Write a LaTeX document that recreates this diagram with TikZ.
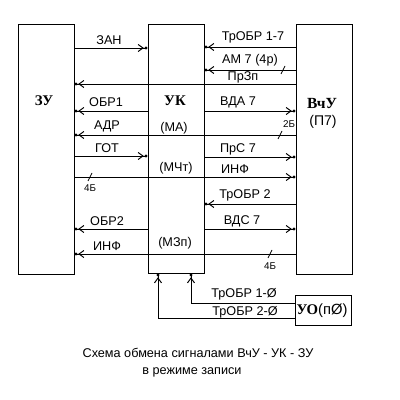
\documentclass[tikz,border=0pt]{standalone}
\usepackage{fontspec}
\setmainfont{Liberation Sans}
\newfontfamily\blokfont{Liberation Serif}
\usetikzlibrary{arrows.meta}

\tikzset{
  blok/.style={draw, line width=0.7pt, minimum width=1.4cm, inner sep=0pt},
  sig/.style={line width=0.7pt, -{Straight Barb[length=3.5pt,width=5pt,sep=0.6pt]Circle[length=2pt]}},
  lbl/.style={font=\fontsize{9}{10}\selectfont, inner sep=0pt},
  imja/.style={font=\blokfont\bfseries\fontsize{10.5}{12}\selectfont, inner sep=0pt},
  razr/.style={font=\fontsize{7}{8}\selectfont, inner sep=0pt}
}

\begin{document}
\begin{tikzpicture}[x=0.025cm,y=-0.025cm]
\useasboundingbox (0,0) rectangle (400,400);

\node[blok, minimum height=6.225cm] (zu) at (46,149.5) {};
\node[blok, minimum height=6.2cm] (uk) at (176,149) {};
\node[blok, minimum height=6.225cm] (vu) at (324,149.5) {};
\node[blok, minimum height=0.75cm] (uo) at (323,310) {};

\node[imja] (zut) at (44,101) {ЗУ};
\node[imja] (ukt) at (175,101) {УК};
\node[imja, font=\blokfont\bfseries\fontsize{11}{12}\selectfont] (vut) at (322,104) {ВчУ};
\node[lbl, font=\fontsize{10}{11}\selectfont] (p7) at (323,122) {(П7)};
\node[imja] (uot) at (322,311) {УО\textmd{\fontspec{Liberation Sans}(пØ)}};
\node[lbl] (ma) at (174,128) {(МА)};
\node[lbl] (mcht) at (176,168) {(МЧт)};
\node[lbl] (mzp) at (175,243) {(МЗп)};

\draw[sig] (zu.east |- 0,48) -- (uk.west |- 0,48);
\draw[sig] (vu.west |- 0,47) -- (uk.east |- 0,47);
\draw[sig] (vu.west |- 0,70) -- (uk.east |- 0,70);
\draw[sig] (vu.west |- 0,84) -- (zu.east |- 0,84);
\draw[sig] (uk.west |- 0,111) -- (zu.east |- 0,111);
\draw[sig] (uk.east |- 0,111) -- (vu.west |- 0,111);
\draw[sig] (vu.west |- 0,135) -- (zu.east |- 0,135);
\draw[sig] (zu.east |- 0,156) -- (uk.west |- 0,156);
\draw[sig] (uk.east |- 0,157) -- (vu.west |- 0,157);
\draw[sig] (zu.east |- 0,177) -- (vu.west |- 0,177);
\draw[sig] (vu.west |- 0,204) -- (uk.east |- 0,204);
\draw[sig] (uk.west |- 0,229) -- (zu.east |- 0,229);
\draw[sig] (uk.east |- 0,229) -- (vu.west |- 0,229);
\draw[sig] (vu.west |- 0,254) -- (zu.east |- 0,254);
\draw[sig] (uo.west |- 0,303) -| (uk.south -| 191,0);
\draw[sig] (uo.west |- 0,318) -| (uk.south -| 158,0);

\foreach \x/\y in {283/70, 280/135, 90/177, 270/254}
\draw[line width=0.6pt] (\x-2,\y+4) -- (\x+2,\y-4);

\node[lbl] (zan) at (109,40) {ЗАН};
\node[lbl] (obr1) at (106,102) {ОБР1};
\node[lbl] (adr) at (107,126) {АДР};
\node[lbl] (got) at (107,148) {ГОТ};
\node[lbl] (obr2) at (107,221) {ОБР2};
\node[lbl] (inf1) at (107,246) {ИНФ};
\node[razr] (b4a) at (90,188) {4Б};

\node[lbl] (trobr17) at (253,37) {ТрОБР 1-7};
\node[lbl] (am7) at (250,60) {АМ 7 (4р)};
\node[lbl] (przp) at (243,77) {ПрЗп};
\node[lbl] (vda7) at (238,102) {ВДА 7};
\node[razr] (b2) at (289,124) {2Б};
\node[lbl] (prs7) at (238,149) {ПрС 7};
\node[lbl] (inf2) at (235,169) {ИНФ};
\node[lbl] (trobr2) at (245,195) {ТрОБР 2};
\node[lbl] (vds7) at (242,221) {ВДС 7};
\node[razr] (b4b) at (270,266) {4Б};

\node[lbl] (trobr10) at (244,294) {ТрОБР 1-Ø};
\node[lbl] (trobr20) at (245,312) {ТрОБР 2-Ø};

\node[lbl] (cap1) at (198,353) {Схема обмена сигналами ВчУ - УК - ЗУ};
\node[lbl] (cap2) at (192,372) {в режиме записи};

\end{tikzpicture}
\end{document}
